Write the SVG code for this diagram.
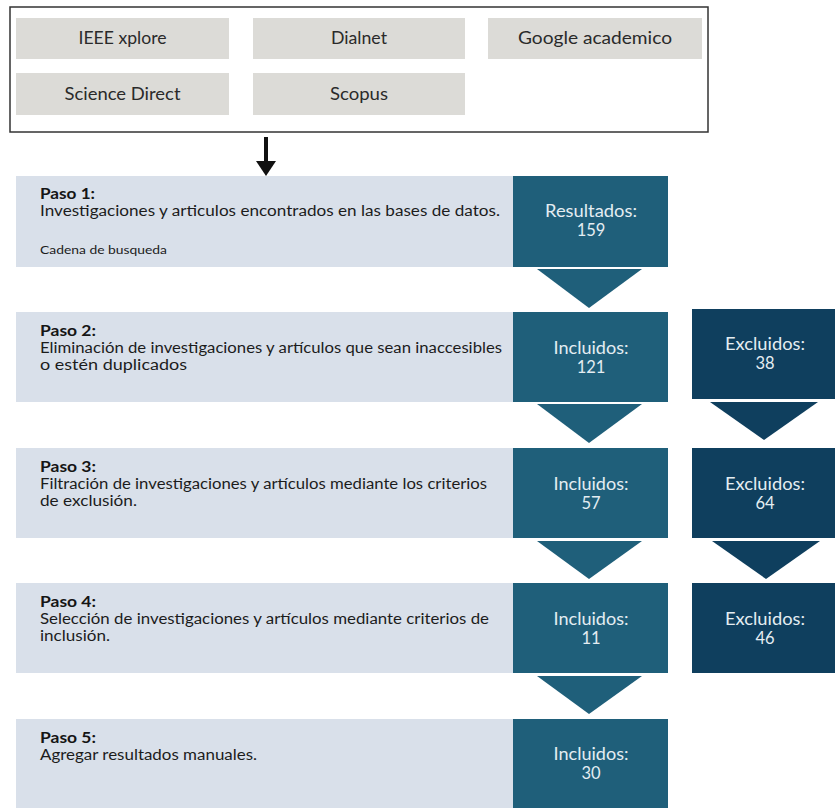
<svg xmlns="http://www.w3.org/2000/svg" width="835" height="808" viewBox="0 0 835 808">
<style>
.db{fill:#dcdbd7}
.dbt{font-family:Lato,"Liberation Sans",sans-serif;font-size:17px;fill:#2a2a2a;text-anchor:middle}
.lt{fill:#d9e0ea}
.tl{fill:#1f5f7a}
.dk{fill:#0f3f5e}
.h{font-family:Lato,"Liberation Sans",sans-serif;font-size:15.5px;font-weight:bold;fill:#151515}
.b{font-family:Lato,"Liberation Sans",sans-serif;font-size:14.5px;fill:#1c1c1c}
.s{font-family:Lato,"Liberation Sans",sans-serif;font-size:12px;fill:#1c1c1c}
.w{font-family:Lato,"Liberation Sans",sans-serif;font-size:16.5px;fill:#e4edf2;text-anchor:middle}
</style>
<rect width="835" height="808" fill="#ffffff"/>
<g id="sources">
<rect x="10" y="7" width="698" height="125" fill="#ffffff" stroke="#333" stroke-width="1.5"/>
<g id="ieee"><rect class="db" x="16" y="18" width="213" height="41"/><text class="dbt" x="122.5" y="44" textLength="88" lengthAdjust="spacingAndGlyphs">IEEE xplore</text></g>
<g id="dialnet"><rect class="db" x="253" y="18" width="212" height="41"/><text class="dbt" x="359" y="44" textLength="56" lengthAdjust="spacingAndGlyphs">Dialnet</text></g>
<g id="google"><rect class="db" x="488" y="18" width="214" height="41"/><text class="dbt" x="595" y="44" textLength="154" lengthAdjust="spacingAndGlyphs">Google academico</text></g>
<g id="science"><rect class="db" x="16" y="73" width="213" height="42"/><text class="dbt" x="122.5" y="100" textLength="116" lengthAdjust="spacingAndGlyphs">Science Direct</text></g>
<g id="scopus"><rect class="db" x="253" y="73" width="212" height="42"/><text class="dbt" x="359" y="100" textLength="58" lengthAdjust="spacingAndGlyphs">Scopus</text></g>
</g>
<g id="connectors">
<line x1="266" y1="137" x2="266" y2="163" stroke="#111" stroke-width="4"/>
<polygon points="256,161 276,161 266,176" fill="#111"/>
<polygon class="tl" points="537,269 642,269 589,308"/>
<polygon class="tl" points="537,404 642,404 589,443"/>
<polygon class="tl" points="537,541 642,541 589,579"/>
<polygon class="tl" points="537,676 642,676 589,714"/>
<polygon class="dk" points="710,402 818,402 764,440"/>
<polygon class="dk" points="712,541 820,541 766,579"/>
</g>
<g id="paso1">
<rect class="lt" x="16" y="176" width="500" height="91"/>
<text class="h" x="40" y="199" textLength="55" lengthAdjust="spacingAndGlyphs">Paso 1:</text>
<text class="b" x="40" y="216" textLength="460" lengthAdjust="spacingAndGlyphs">Investigaciones y articulos encontrados en las bases de datos.</text>
<text class="s" x="40" y="254" textLength="127" lengthAdjust="spacingAndGlyphs">Cadena de busqueda</text>
</g>
<g id="res1"><rect class="tl" x="513" y="176" width="155" height="91"/><text class="w" x="591" y="217" textLength="92" lengthAdjust="spacingAndGlyphs">Resultados:</text><text class="w" x="591" y="236">159</text></g>
<g id="paso2">
<rect class="lt" x="16" y="312" width="500" height="90"/>
<text class="h" x="40" y="336" textLength="56" lengthAdjust="spacingAndGlyphs">Paso 2:</text>
<text class="b" x="40" y="353" textLength="462" lengthAdjust="spacingAndGlyphs">Eliminación de investigaciones y artículos que sean inaccesibles</text>
<text class="b" x="40" y="370" textLength="147" lengthAdjust="spacingAndGlyphs">o estén duplicados</text>
</g>
<g id="inc2"><rect class="tl" x="513" y="312" width="155" height="90"/><text class="w" x="591" y="354" textLength="75" lengthAdjust="spacingAndGlyphs">Incluidos:</text><text class="w" x="591" y="373">121</text></g>
<g id="exc2"><rect class="dk" x="692" y="309" width="148" height="90"/><text class="w" x="765" y="350" textLength="80" lengthAdjust="spacingAndGlyphs">Excluidos:</text><text class="w" x="765" y="369">38</text></g>
<g id="paso3">
<rect class="lt" x="16" y="448" width="500" height="90"/>
<text class="h" x="40" y="472" textLength="56" lengthAdjust="spacingAndGlyphs">Paso 3:</text>
<text class="b" x="40" y="489" textLength="447" lengthAdjust="spacingAndGlyphs">Filtración de investigaciones y artículos mediante los criterios</text>
<text class="b" x="40" y="506" textLength="97" lengthAdjust="spacingAndGlyphs">de exclusión.</text>
</g>
<g id="inc3"><rect class="tl" x="513" y="448" width="155" height="90"/><text class="w" x="591" y="490" textLength="75" lengthAdjust="spacingAndGlyphs">Incluidos:</text><text class="w" x="591" y="509">57</text></g>
<g id="exc3"><rect class="dk" x="692" y="448" width="148" height="90"/><text class="w" x="765" y="490" textLength="80" lengthAdjust="spacingAndGlyphs">Excluidos:</text><text class="w" x="765" y="509">64</text></g>
<g id="paso4">
<rect class="lt" x="16" y="583" width="500" height="90"/>
<text class="h" x="40" y="607" textLength="56" lengthAdjust="spacingAndGlyphs">Paso 4:</text>
<text class="b" x="40" y="624" textLength="449" lengthAdjust="spacingAndGlyphs">Selección de investigaciones y artículos mediante criterios de</text>
<text class="b" x="40" y="641" textLength="70" lengthAdjust="spacingAndGlyphs">inclusión.</text>
</g>
<g id="inc4"><rect class="tl" x="513" y="583" width="155" height="90"/><text class="w" x="591" y="625" textLength="75" lengthAdjust="spacingAndGlyphs">Incluidos:</text><text class="w" x="591" y="644">11</text></g>
<g id="exc4"><rect class="dk" x="692" y="583" width="148" height="90"/><text class="w" x="765" y="625" textLength="80" lengthAdjust="spacingAndGlyphs">Excluidos:</text><text class="w" x="765" y="644">46</text></g>
<g id="paso5">
<rect class="lt" x="16" y="719" width="500" height="89"/>
<text class="h" x="40" y="743" textLength="56" lengthAdjust="spacingAndGlyphs">Paso 5:</text>
<text class="b" x="40" y="760" textLength="217" lengthAdjust="spacingAndGlyphs">Agregar resultados manuales.</text>
</g>
<g id="inc5"><rect class="tl" x="513" y="719" width="155" height="89"/><text class="w" x="591" y="760" textLength="75" lengthAdjust="spacingAndGlyphs">Incluidos:</text><text class="w" x="591" y="779">30</text></g>
</svg>
